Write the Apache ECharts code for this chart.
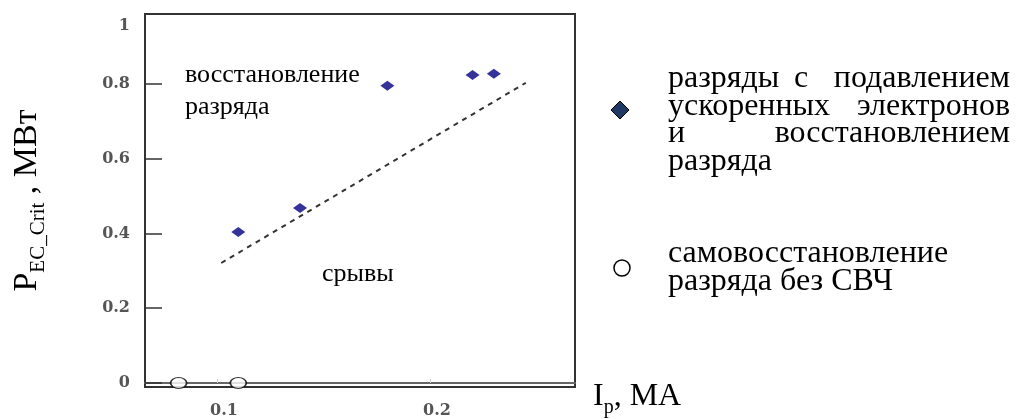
<!DOCTYPE html>
<html>
<head>
<meta charset="utf-8">
<script src="https://cdn.jsdelivr.net/npm/echarts@6/dist/echarts.min.js"></script>
<style>
  html, body { margin: 0; padding: 0; background: #fff; }
  #main { width: 1028px; height: 419px; }
</style>
</head>
<body>
<div id="main"></div>
<script>
// discharges with suppressed accelerated electrons and recovery
const diamondX = [0.110, 0.139, 0.180, 0.220, 0.230];
const diamondY = [0.404, 0.468, 0.795, 0.824, 0.827];
// self-recovery without microwave
const circleX = [0.082, 0.110];
const circleY = [0, 0];
// dashed boundary line
const boundX = [0.102, 0.245];
const boundY = [0.321, 0.803];

const xTickValues = [0.1, 0.2];
const yTickValues = [0, 0.2, 0.4, 0.6, 0.8];
const yLabelValues = [0, 0.2, 0.4, 0.6, 0.8, 0.955];
const yLabelTexts = ['0', '0.2', '0.4', '0.6', '0.8', '1'];

const serif = '"Liberation Serif", "Times New Roman", serif';
const tickFont = '"DejaVu Serif", serif';

let myChart = echarts.init(document.getElementById('main'));

function zip(xs, ys) {
    return xs.map((x, i) => [x, ys[i]]);
}

function txt(x, y, text, size, align) {
    return {
        type: 'text', x: x, y: y,
        style: {
            text: text, font: size + 'px ' + serif, fill: '#000',
            align: align || 'left', verticalAlign: 'middle'
        }
    };
}

let option = {
    animation: false,
    grid: {
        left: 145, right: 453, top: 14, bottom: 32,
        show: true, borderColor: '#333', borderWidth: 2
    },
    xAxis: {
        type: 'value',
        min: 0.0662, max: 0.2681,
        name: '{m|I}{s|p}{m|, МА}',
        nameLocation: 'end',
        nameGap: 18,
        nameTextStyle: {
            verticalAlign: 'middle',
            padding: [24, 0, 0, 0],
            rich: {
                m: { fontFamily: serif, fontSize: 32, color: '#000', lineHeight: 36, verticalAlign: 'bottom' },
                s: { fontFamily: serif, fontSize: 20, color: '#000', verticalAlign: 'bottom', padding: [0, 0, -5, 0] }
            }
        },
        axisLine: { lineStyle: { color: '#666', width: 2 } },
        axisTick: { inside: true, length: 4, customValues: xTickValues, lineStyle: { color: '#ccc' } },
        axisLabel: {
            customValues: xTickValues,
            fontFamily: tickFont, fontSize: 16, fontWeight: 'bold', color: '#555', margin: 16,
            padding: [0, 0, 0, 14],
            formatter: v => String(v)
        },
        splitLine: { show: false }
    },
    yAxis: {
        type: 'value',
        min: -0.0107, max: 0.987,
        name: '{m|P}{s|EC_Crit}{m| , МВт}',
        nameLocation: 'middle',
        nameRotate: 90,
        nameGap: 101,
        nameTextStyle: {
            rich: {
                m: { fontFamily: serif, fontSize: 34, color: '#000', lineHeight: 38, verticalAlign: 'bottom' },
                s: { fontFamily: serif, fontSize: 21, color: '#000', verticalAlign: 'bottom', padding: [0, 0, -5, 0] }
            }
        },
        axisLine: { lineStyle: { color: '#333', width: 2 } },
        axisTick: { inside: true, length: 17, customValues: yTickValues, lineStyle: { color: '#333', width: 1.5 } },
        axisLabel: {
            customValues: yLabelValues,
            fontFamily: tickFont, fontSize: 16, fontWeight: 'bold', color: '#555', margin: 15,
            padding: [0, 0, 8, 0],
            formatter: v => yLabelTexts[yLabelValues.indexOf(v)]
        },
        splitLine: { show: false }
    },
    graphic: [
        // annotations inside the plot
        txt(185, 75, 'восстановление', 26),
        txt(185, 107, 'разряда', 26),
        txt(322, 274, 'срывы', 26),
        // legend: first entry
        { type: 'polygon', shape: { points: [[611, 110], [620, 101], [629, 110], [620, 119]] }, style: { fill: '#1f3864', stroke: '#000', lineWidth: 1 } },
        txt(668, 79, 'разряды', 32),
        txt(801, 79, 'с', 32, 'center'),
        txt(1010, 79, 'подавлением', 32, 'right'),
        txt(668, 107, 'ускоренных', 32),
        txt(1010, 107, 'электронов', 32, 'right'),
        txt(668, 134, 'и', 32),
        txt(1010, 134, 'восстановлением', 32, 'right'),
        txt(668, 162, 'разряда', 32),
        // legend: second entry
        { type: 'circle', shape: { cx: 622, cy: 268, r: 8 }, style: { fill: '#fff', stroke: '#000', lineWidth: 1.5 } },
        txt(668, 254, 'самовосстановление', 32),
        txt(668, 282, 'разряда без СВЧ', 32)
    ],
    series: [
        {
            type: 'line',
            data: zip(boundX, boundY),
            symbol: 'none',
            lineStyle: { color: '#333', width: 2, type: [5, 5] },
            silent: true
        },
        {
            type: 'scatter',
            data: zip(diamondX, diamondY),
            symbol: 'diamond',
            symbolSize: [14, 10],
            itemStyle: { color: '#000080' }
        },
        {
            type: 'scatter',
            data: zip(circleX, circleY),
            symbol: 'path://M0,5A7,5,0,1,1,14,5A7,5,0,1,1,0,5Z',
            symbolSize: [16, 11],
            itemStyle: { color: '#fff', borderColor: '#000', borderWidth: 1.5 }
        }
    ]
};
myChart.setOption(option);
</script>
</body>
</html>
